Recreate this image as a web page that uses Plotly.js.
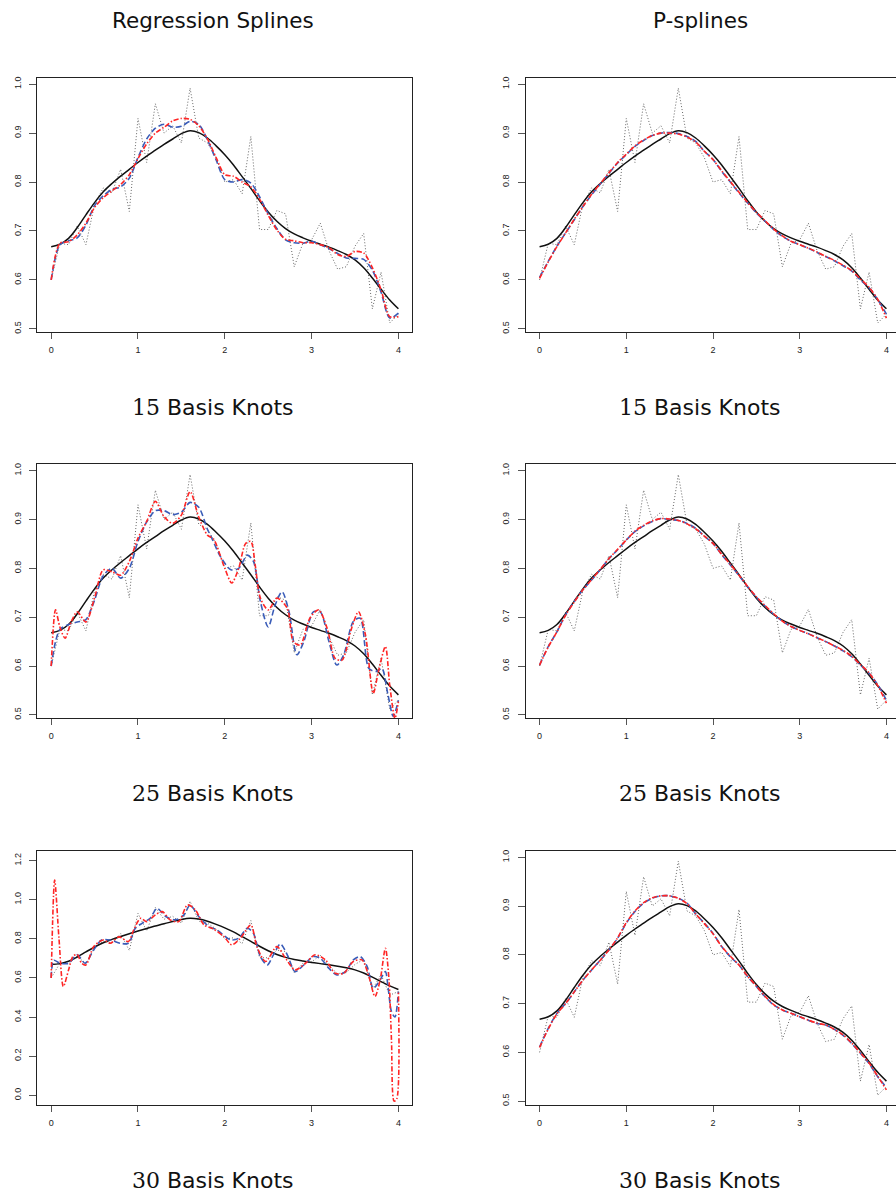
<!DOCTYPE html>
<html>
<head>
<meta charset="utf-8">
<script src="https://cdn.plot.ly/plotly-3.0.1.min.js"></script>
<style>
html,body{margin:0;padding:0;overflow:hidden;background:#fff;}
#chart{width:905px;height:1193px;}
</style>
</head>
<body>
<div id="chart"></div>
<script>
// ---------- data ----------
const xGrid = [0,0.1,0.2,0.3,0.4,0.5,0.6,0.7,0.8,0.9,1.0,1.1,1.2,1.3,1.4,1.5,1.6,1.7,1.8,1.9,2.0,2.1,2.2,2.3,2.4,2.5,2.6,2.7,2.8,2.9,3.0,3.1,3.2,3.3,3.4,3.5,3.6,3.7,3.8,3.9,4.0];

// observed data (gray dotted)
const yObs = [0.60,0.675,0.672,0.71,0.672,0.755,0.788,0.778,0.826,0.74,0.93,0.84,0.96,0.90,0.915,0.88,0.992,0.89,0.88,0.85,0.80,0.805,0.776,0.893,0.703,0.703,0.742,0.735,0.627,0.675,0.682,0.716,0.66,0.622,0.627,0.669,0.695,0.541,0.616,0.512,0.53];

// true function (black)
const yTrue = [0.668,0.673,0.685,0.707,0.733,0.758,0.78,0.797,0.812,0.826,0.84,0.853,0.865,0.877,0.888,0.899,0.905,0.901,0.89,0.874,0.856,0.835,0.811,0.787,0.762,0.739,0.72,0.705,0.694,0.686,0.679,0.673,0.667,0.66,0.652,0.641,0.625,0.604,0.581,0.559,0.541];

// Regression splines, 15 knots
const rs15Blue = [0.60,0.672,0.68,0.686,0.712,0.752,0.772,0.785,0.79,0.808,0.85,0.888,0.91,0.918,0.912,0.914,0.924,0.918,0.886,0.845,0.805,0.80,0.805,0.798,0.77,0.735,0.705,0.682,0.676,0.675,0.679,0.672,0.664,0.654,0.645,0.644,0.642,0.62,0.575,0.522,0.532];
const rs15Red  = [0.60,0.675,0.678,0.692,0.716,0.748,0.768,0.782,0.795,0.815,0.848,0.878,0.90,0.912,0.925,0.93,0.928,0.915,0.888,0.85,0.815,0.812,0.80,0.79,0.765,0.732,0.702,0.683,0.68,0.676,0.676,0.672,0.666,0.652,0.648,0.658,0.655,0.625,0.58,0.525,0.525];

// Regression splines, 25 knots
const rs25BlueX = [0,0.05,0.1,0.2,0.3,0.4,0.45,0.5,0.6,0.7,0.8,0.9,1.0,1.1,1.2,1.3,1.4,1.5,1.6,1.7,1.8,1.85,1.95,2.07,2.16,2.26,2.33,2.41,2.5,2.58,2.66,2.74,2.83,2.91,3.02,3.1,3.2,3.29,3.37,3.48,3.56,3.66,3.75,3.81,3.88,3.94,4.0];
const rs25BlueY = [0.60,0.65,0.675,0.685,0.69,0.695,0.712,0.735,0.785,0.80,0.78,0.80,0.855,0.895,0.918,0.918,0.91,0.915,0.935,0.925,0.88,0.862,0.824,0.797,0.80,0.827,0.814,0.732,0.68,0.725,0.752,0.711,0.623,0.65,0.711,0.711,0.65,0.602,0.623,0.691,0.698,0.595,0.589,0.595,0.541,0.497,0.53];
const rs25RedX = [0,0.05,0.1,0.16,0.23,0.3,0.4,0.5,0.6,0.7,0.8,0.9,1.0,1.1,1.2,1.3,1.4,1.5,1.6,1.7,1.8,1.87,2.0,2.08,2.16,2.24,2.3,2.35,2.41,2.5,2.6,2.72,2.79,2.87,2.98,3.08,3.18,3.27,3.35,3.46,3.54,3.62,3.71,3.77,3.85,3.9,3.96,4.0];
const rs25RedY = [0.60,0.715,0.68,0.657,0.69,0.711,0.69,0.74,0.797,0.793,0.786,0.814,0.862,0.896,0.937,0.906,0.892,0.909,0.957,0.905,0.868,0.86,0.80,0.77,0.80,0.851,0.855,0.807,0.739,0.715,0.739,0.718,0.65,0.643,0.698,0.715,0.677,0.616,0.612,0.677,0.711,0.664,0.544,0.589,0.64,0.561,0.493,0.527];

// Regression splines, 30 knots
const rs30BlueX = [0,0.03,0.1,0.2,0.3,0.39,0.49,0.58,0.68,0.8,0.89,0.97,1.05,1.14,1.22,1.32,1.43,1.53,1.6,1.7,1.82,1.91,2.07,2.16,2.26,2.33,2.41,2.49,2.56,2.64,2.72,2.81,2.91,3.02,3.1,3.2,3.29,3.39,3.48,3.56,3.64,3.71,3.79,3.85,3.88,3.92,3.96,4.0];
const rs30BlueY = [0.60,0.69,0.675,0.675,0.718,0.675,0.743,0.794,0.794,0.777,0.777,0.854,0.88,0.905,0.956,0.914,0.897,0.922,0.973,0.914,0.862,0.845,0.794,0.803,0.854,0.828,0.709,0.666,0.718,0.774,0.718,0.632,0.666,0.709,0.70,0.649,0.615,0.632,0.692,0.709,0.658,0.547,0.59,0.632,0.556,0.428,0.40,0.53];
const rs30RedX = [0,0.04,0.09,0.14,0.2,0.25,0.3,0.35,0.4,0.49,0.6,0.68,0.78,0.89,0.95,1.03,1.1,1.2,1.28,1.37,1.47,1.57,1.66,1.76,1.87,1.99,2.08,2.18,2.3,2.37,2.47,2.6,2.7,2.81,2.93,3.04,3.16,3.27,3.37,3.48,3.58,3.66,3.73,3.79,3.85,3.89,3.92,3.95,3.98,4.0];
const rs30RedY = [0.60,1.10,0.80,0.556,0.64,0.71,0.72,0.675,0.666,0.76,0.794,0.777,0.81,0.786,0.845,0.905,0.888,0.922,0.939,0.897,0.888,0.973,0.948,0.871,0.85,0.811,0.769,0.803,0.871,0.76,0.684,0.76,0.70,0.641,0.675,0.718,0.692,0.624,0.624,0.684,0.692,0.607,0.505,0.59,0.752,0.60,0.283,-0.03,-0.02,0.53];

// P-splines
const ps15Blue = [0.605,0.638,0.669,0.696,0.723,0.75,0.774,0.796,0.818,0.839,0.856,0.873,0.885,0.895,0.90,0.901,0.899,0.893,0.883,0.863,0.846,0.822,0.80,0.778,0.757,0.737,0.72,0.703,0.689,0.679,0.672,0.665,0.656,0.648,0.639,0.629,0.618,0.60,0.584,0.56,0.53];
const ps15Red  = [0.603,0.637,0.668,0.696,0.724,0.75,0.775,0.797,0.819,0.84,0.857,0.874,0.886,0.895,0.90,0.90,0.898,0.892,0.882,0.863,0.846,0.823,0.801,0.779,0.758,0.738,0.721,0.704,0.69,0.679,0.672,0.665,0.657,0.648,0.64,0.63,0.619,0.602,0.585,0.56,0.522];
const ps25Blue = [0.602,0.64,0.67,0.705,0.732,0.756,0.776,0.797,0.82,0.838,0.858,0.875,0.887,0.896,0.902,0.90,0.898,0.892,0.882,0.866,0.851,0.828,0.807,0.785,0.762,0.741,0.723,0.706,0.692,0.681,0.673,0.666,0.658,0.65,0.641,0.631,0.619,0.602,0.585,0.562,0.53];
const ps25Red  = [0.602,0.639,0.67,0.704,0.731,0.756,0.777,0.798,0.82,0.839,0.858,0.876,0.888,0.897,0.902,0.901,0.898,0.891,0.881,0.866,0.851,0.829,0.808,0.786,0.763,0.742,0.724,0.707,0.692,0.681,0.673,0.666,0.658,0.65,0.641,0.632,0.62,0.603,0.586,0.56,0.524];
const ps30Blue = [0.611,0.649,0.68,0.70,0.724,0.748,0.769,0.789,0.81,0.834,0.865,0.889,0.906,0.916,0.921,0.921,0.916,0.906,0.884,0.865,0.844,0.817,0.796,0.779,0.755,0.735,0.714,0.697,0.687,0.68,0.673,0.666,0.659,0.656,0.647,0.635,0.618,0.598,0.577,0.55,0.528];
const ps30Red  = [0.61,0.648,0.679,0.70,0.724,0.748,0.769,0.789,0.81,0.835,0.866,0.89,0.907,0.917,0.921,0.921,0.916,0.905,0.884,0.864,0.843,0.817,0.797,0.779,0.756,0.736,0.715,0.698,0.687,0.68,0.673,0.666,0.66,0.656,0.647,0.636,0.619,0.599,0.578,0.551,0.523];

const colTitles = ["Regression Splines", "P-splines"];
const rowKnots = ["15", "25", "30"];
const xTickVals = [0,1,2,3,4];
const yTicksStd = [0.5,0.6,0.7,0.8,0.9,1.0];
const yTicksWide = [0.0,0.2,0.4,0.6,0.8,1.0,1.2];

// ---------- layout helpers ----------
const W = 905, H = 1193;
const colPx = [[37.3, 412.3], [525.7, 900.3]];
const rowPx = [[78.3, 332.3], [464.3, 718.3], [851, 1105]];

const panels = [
  {r:0,c:0, blue:{x:xGrid,y:rs15Blue}, red:{x:xGrid,y:rs15Red}, yr:[0.493,1.012], yt:yTicksStd},
  {r:0,c:1, blue:{x:xGrid,y:ps15Blue}, red:{x:xGrid,y:ps15Red}, yr:[0.493,1.012], yt:yTicksStd},
  {r:1,c:0, blue:{x:rs25BlueX,y:rs25BlueY}, red:{x:rs25RedX,y:rs25RedY}, yr:[0.493,1.013], yt:yTicksStd},
  {r:1,c:1, blue:{x:xGrid,y:ps25Blue}, red:{x:xGrid,y:ps25Red}, yr:[0.493,1.013], yt:yTicksStd},
  {r:2,c:0, blue:{x:rs30BlueX,y:rs30BlueY}, red:{x:rs30RedX,y:rs30RedY}, yr:[-0.05,1.249], yt:yTicksWide},
  {r:2,c:1, blue:{x:xGrid,y:ps30Blue}, red:{x:xGrid,y:ps30Red}, yr:[0.492,1.013], yt:yTicksStd}
];

const traces = [];
const layout = {
  width: W, height: H,
  margin: {l:0, r:0, t:0, b:0},
  paper_bgcolor: '#fff', plot_bgcolor: '#fff',
  showlegend: false,
  annotations: []
};
const tickFont = {family: 'Liberation Sans, Arial, sans-serif', size: 9, color: '#222'};

panels.forEach((p, i) => {
  const n = i + 1;
  const xa = 'x' + (n === 1 ? '' : n), ya = 'y' + (n === 1 ? '' : n);
  const xk = 'xaxis' + (n === 1 ? '' : n), yk = 'yaxis' + (n === 1 ? '' : n);
  const cx = colPx[p.c], ry = rowPx[p.r];
  layout[xk] = {
    domain: [cx[0]/W, cx[1]/W], range: [-0.16, 4.16], anchor: ya,
    tickvals: xTickVals, ticktext: xTickVals.map(String),
    ticks: 'outside', ticklen: 6, tickwidth: 1, tickcolor: '#555',
    ticklabelstandoff: 3,
    showline: true, mirror: true, linecolor: '#222', linewidth: 1,
    showgrid: false, zeroline: false, fixedrange: true,
    tickfont: tickFont
  };
  layout[yk] = {
    domain: [1 - ry[1]/H, 1 - ry[0]/H], range: p.yr, anchor: xa,
    tickvals: p.yt, ticktext: p.yt.map(v => v.toFixed(1)),
    tickangle: -90,
    ticks: 'outside', ticklen: 7, tickwidth: 1, tickcolor: '#555',
    ticklabelstandoff: 5,
    showline: true, mirror: true, linecolor: '#222', linewidth: 1,
    showgrid: false, zeroline: false, fixedrange: true,
    tickfont: tickFont
  };
  traces.push({x: xGrid, y: yObs, xaxis: xa, yaxis: ya, mode: 'lines', hoverinfo: 'skip',
    line: {color: '#666', width: 1, dash: '1px,2px'}});
  traces.push({x: xGrid, y: yTrue, xaxis: xa, yaxis: ya, mode: 'lines', hoverinfo: 'skip',
    line: {color: '#111', width: 1.5, shape: 'spline', smoothing: 1}});
  traces.push({x: p.blue.x, y: p.blue.y, xaxis: xa, yaxis: ya, mode: 'lines', hoverinfo: 'skip',
    line: {color: '#3a5cb8', width: 1.6, dash: '6px,3px', shape: 'spline', smoothing: 0.8}});
  traces.push({x: p.red.x, y: p.red.y, xaxis: xa, yaxis: ya, mode: 'lines', hoverinfo: 'skip',
    line: {color: '#ff2525', width: 1.6, dash: '5px,2px,1.5px,2px', shape: 'spline', smoothing: 0.8}});
});

// titles
const titleFont = {family: 'DejaVu Sans, sans-serif', size: 21.5, color: '#111'};
const rowFont = {family: 'DejaVu Sans, sans-serif', size: 22, color: '#111'};
const colCenters = [213, 700];
colTitles.forEach((t, c) => {
  layout.annotations.push({text: t, xref: 'paper', yref: 'paper', x: colCenters[c]/W, y: 1 - 20/H,
    xanchor: 'center', yanchor: 'middle', showarrow: false, font: titleFont});
});
const rowTitleY = [407, 793, 1180];
rowKnots.forEach((k, r) => {
  colCenters.forEach(cc => {
    layout.annotations.push({
      text: '<span style="font-family:\'DejaVu Serif\', serif">' + k + '</span> Basis Knots',
      xref: 'paper', yref: 'paper', x: cc/W, y: 1 - rowTitleY[r]/H,
      xanchor: 'center', yanchor: 'middle', showarrow: false, font: rowFont});
  });
});

Plotly.newPlot('chart', traces, layout, {displayModeBar: false, staticPlot: true});
</script>
</body>
</html>
